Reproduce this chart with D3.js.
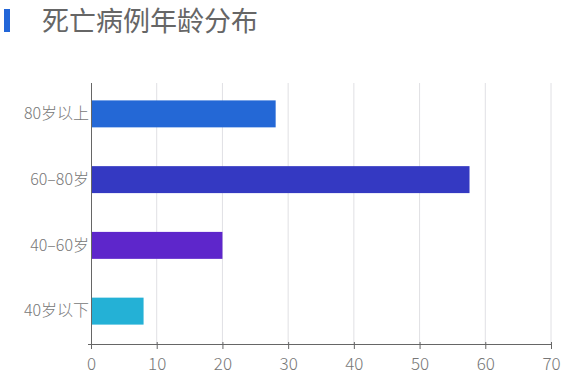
<!DOCTYPE html>
<html>
<head>
<meta charset="utf-8">
<script src="https://cdn.jsdelivr.net/npm/d3@7"></script>
<style>
  body { margin: 0; background: #fff; }
  svg { display: block; font-family: "Noto Sans CJK SC", "Noto Sans", sans-serif; }
</style>
</head>
<body>
<svg id="chart" width="581" height="379"></svg>
<script>
var categories = ['80岁以上', '60–80岁', '40–60岁', '40岁以下'];
var values = [28.1, 57.6, 20, 8];
var colors = ['#2468d6', '#3439c2', '#5e26cb', '#24b1d6'];
var xTicks = [0, 10, 20, 30, 40, 50, 60, 70];

var svg = d3.select('#chart');
var margin = { top: 81, left: 91, right: 30, bottom: 35 };
var chartWidth = 581 - margin.left - margin.right;
var chartHeight = 379 - margin.top - margin.bottom;

// title
svg.append('rect')
  .attr('x', 4).attr('y', 9).attr('width', 6).attr('height', 23)
  .attr('fill', '#2266d8');
svg.append('text')
  .attr('x', 42).attr('y', 31)
  .attr('font-size', 27)
  .attr('fill', '#666')
  .text('死亡病例年龄分布');

var chartGroup = svg.append('g')
  .attr('transform', 'translate(' + margin.left + ',' + margin.top + ')');

var xScale = d3.scaleLinear().domain([0, 70]).range([0, chartWidth]);
var yScale = d3.scaleBand().domain(categories).range([0, chartHeight])
  .paddingInner(0.59).paddingOuter(0.295);

// gridlines
chartGroup.selectAll('.grid').data(xTicks.slice(1)).enter().append('line')
  .attr('class', 'grid')
  .attr('x1', function(d) { return xScale(d); })
  .attr('x2', function(d) { return xScale(d); })
  .attr('y1', 2).attr('y2', chartHeight)
  .attr('stroke', '#e0e0e4').attr('stroke-width', 1);

chartGroup.selectAll('.bar').data(values).enter().append('rect')
  .attr('class', 'bar')
  .attr('x', xScale(0))
  .attr('y', function(d, i) { return yScale(categories[i]); })
  .attr('width', function(d) { return xScale(d) - xScale(0); })
  .attr('height', yScale.bandwidth())
  .attr('fill', function(d, i) { return colors[i]; });

var xAxisGroup = chartGroup.append('g')
  .attr('transform', 'translate(0,' + chartHeight + ')')
  .call(d3.axisBottom(xScale).tickValues(xTicks).tickSize(5).tickSizeOuter(0).tickPadding(9));
xAxisGroup.select('.domain').attr('stroke', '#666').attr('d', 'M-3,0.5H' + chartWidth);
xAxisGroup.selectAll('.tick line').attr('stroke', '#666').attr('y1', -2);
xAxisGroup.selectAll('.tick text')
  .attr('fill', '#777').attr('font-size', 17).attr('font-weight', 300)
  .style('font-family', '"Noto Sans CJK SC", sans-serif');

var yAxisGroup = chartGroup.append('g')
  .call(d3.axisLeft(yScale).tickSize(0).tickPadding(2));
yAxisGroup.select('.domain').attr('stroke', '#666').attr('d', 'M0.5,2V' + chartHeight);
yAxisGroup.selectAll('.tick text')
  .attr('fill', '#777').attr('font-size', 16).attr('font-weight', 300)
  .style('font-family', '"Noto Sans CJK SC", sans-serif');
</script>
</body>
</html>
